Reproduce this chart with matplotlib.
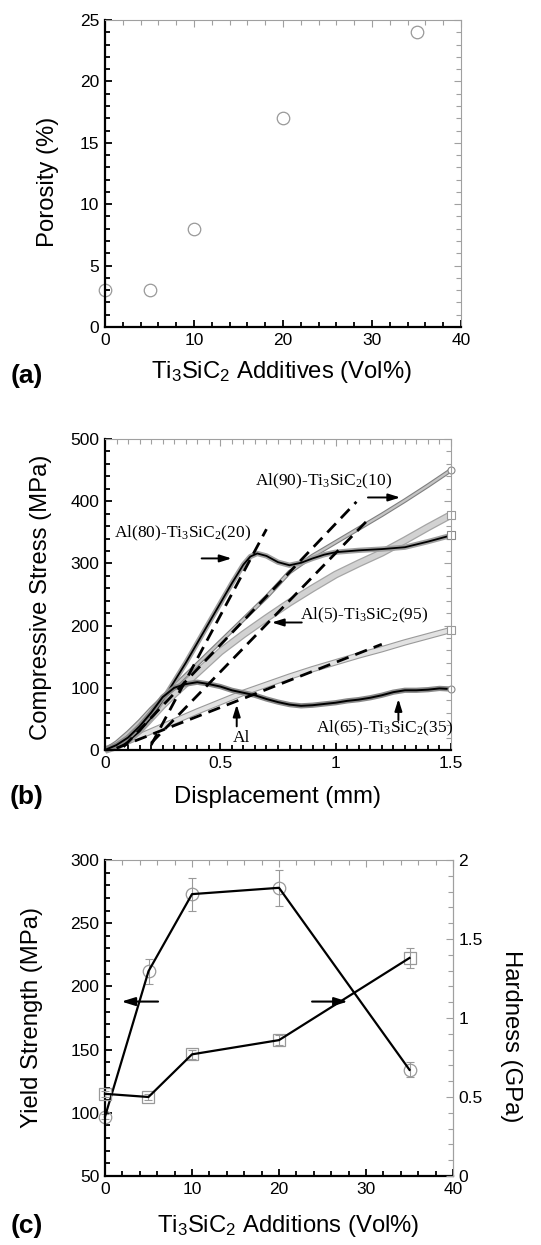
import matplotlib
matplotlib.use('Agg')
import matplotlib.pyplot as plt
from matplotlib.ticker import MultipleLocator

plt.rcParams['font.family'] = ['Liberation Sans', 'DejaVu Sans']

# ---------------- data ----------------
# (a) porosity
por_x = [0, 5, 10, 20, 35]
por_y = [3, 3, 8, 17, 24]

# (b) compressive stress-displacement curves
al80_x = [0, 0.05, 0.1, 0.15, 0.2, 0.25, 0.3, 0.35, 0.4, 0.45, 0.5, 0.55, 0.6, 0.63, 0.66, 0.7,
          0.75, 0.8, 0.85, 0.9, 0.95, 1.0, 1.1, 1.2, 1.3, 1.4, 1.5]
al80_y = [0, 5, 14, 30, 52, 80, 110, 140, 172, 204, 236, 268, 298, 311, 316, 312,
          302, 297, 301, 308, 314, 318, 321, 323, 326, 335, 345]
al90_x = [0, 0.05, 0.1, 0.15, 0.2, 0.3, 0.4, 0.5, 0.6, 0.7, 0.8, 0.9, 1.0, 1.1, 1.2, 1.3, 1.4, 1.5]
al90_y = [0, 12, 28, 46, 66, 102, 138, 174, 210, 246, 286, 312, 334, 356, 378, 401, 425, 450]
al5_x = [0, 0.05, 0.1, 0.15, 0.2, 0.25, 0.3, 0.4, 0.5, 0.6, 0.7, 0.8, 0.9, 1.0, 1.1, 1.2, 1.3, 1.4, 1.5]
al5_y = [0, 6, 16, 32, 52, 72, 90, 124, 158, 186, 212, 237, 260, 282, 300, 317, 337, 358, 378]
al_x = [0, 0.1, 0.2, 0.3, 0.4, 0.5, 0.6, 0.7, 0.8, 0.9, 1.0, 1.1, 1.2, 1.3, 1.4, 1.5]
al_y = [0, 14, 30, 46, 62, 77, 92, 105, 118, 130, 141, 152, 162, 173, 183, 193]
al65_x = [0, 0.05, 0.1, 0.15, 0.2, 0.25, 0.3, 0.35, 0.4, 0.45, 0.5, 0.55, 0.6, 0.65, 0.7, 0.75,
          0.8, 0.85, 0.9, 0.95, 1.0, 1.05, 1.1, 1.15, 1.2, 1.25, 1.3, 1.35, 1.4, 1.45, 1.5]
al65_y = [0, 8, 20, 38, 60, 85, 100, 106, 109, 106, 102, 96, 92, 88, 82, 77,
          73, 71, 72, 74, 76, 79, 81, 84, 88, 93, 96, 96, 97, 99, 98]
# dashed linear fits (end points)
fit80_x, fit80_y = [0.2, 0.70], [8, 355]
fit90_x, fit90_y = [0.08, 1.09], [5, 399]
fit5_x, fit5_y = [0.2, 1.145], [11, 372]
fital_x, fital_y = [0.05, 1.2], [3, 170]

# (c) yield strength and hardness
add_x = [0, 5, 10, 20, 35]
yield_y = [97, 212, 273, 278, 134]
yield_err = [2, 10, 13, 14, 6]
hard_y = [0.52, 0.50, 0.77, 0.86, 1.38]
hard_err = [0.02, 0.02, 0.03, 0.03, 0.065]

# ---------------- figure ----------------
W, H = 541, 1245
fig = plt.figure(figsize=(W / 100, H / 100), dpi=100)


def axes_px(l, t, r, b):
    return fig.add_axes([l / W, 1 - b / H, (r - l) / W, (b - t) / H])


def ftext(px, py, s, **kw):
    fig.text(px / W, 1 - py / H, s, ha='center', va='center', **kw)


GRAY = '#a0a0a0'
TICKFS = 12.5
LABFS = 17.2


def style(ax, xmaj, xmin, ymaj, ymin, right=True):
    for s in ['left', 'bottom']:
        ax.spines[s].set_linewidth(1.6)
        ax.spines[s].set_color('k')
    for s in ['top', 'right']:
        ax.spines[s].set_linewidth(0.8)
        ax.spines[s].set_color(GRAY)
    ax.xaxis.set_major_locator(MultipleLocator(xmaj))
    ax.xaxis.set_minor_locator(MultipleLocator(xmin))
    ax.yaxis.set_major_locator(MultipleLocator(ymaj))
    ax.yaxis.set_minor_locator(MultipleLocator(ymin))
    ax.tick_params(which='both', direction='in', top=True, right=right,
                   labelsize=TICKFS, width=1.3, pad=4)
    ax.tick_params(which='major', length=5)
    ax.tick_params(which='minor', length=3.5)
    ticks = ax.xaxis.get_major_ticks() + ax.xaxis.get_minor_ticks()
    if right:
        ticks += ax.yaxis.get_major_ticks() + ax.yaxis.get_minor_ticks()
    for t in ticks:
        t.tick2line.set_markeredgecolor(GRAY)
        t.tick2line.set_markeredgewidth(0.8)


# ---------- (a) ----------
axa = axes_px(105, 20, 461, 327)
axa.plot(por_x, por_y, 'o', ms=9, mfc='none', mec='#999999', mew=0.9, clip_on=False)
axa.set_xlim(0, 40)
axa.set_ylim(0, 25)
style(axa, 10, 2, 5, 1)
ftext(48, 182, 'Porosity (%)', rotation=90, fontsize=LABFS)
ftext(282, 372, r'$\mathregular{Ti_3SiC_2}$ Additives (Vol%)', fontsize=LABFS)
ftext(27, 376, '(a)', fontsize=19, fontweight='bold')

# ---------- (b) ----------
axb = axes_px(105, 439, 451, 750)
band = dict(solid_capstyle='butt', solid_joinstyle='round', clip_on=False)
# pure Al
axb.plot(al_x, al_y, color='#9a9a9a', lw=4.6, **band)
axb.plot(al_x, al_y, color='#e2e2e2', lw=3.0, **band)
axb.plot(al_x[-1:], al_y[-1:], 's', ms=6, mfc='white', mec='#999999', mew=0.8, clip_on=False)
# Al(5)
axb.plot(al5_x, al5_y, color='#a5a5a5', lw=5.6, **band)
axb.plot(al5_x, al5_y, color='#d2d2d2', lw=3.8, **band)
axb.plot(al5_x[-1:], al5_y[-1:], 's', ms=6, mfc='white', mec='#999999', mew=0.8, clip_on=False)
# Al(90)
axb.plot(al90_x, al90_y, color='#808080', lw=3.2, **band)
axb.plot(al90_x, al90_y, color='#c4c4c4', lw=1.6, **band)
axb.plot(al90_x[-1:], al90_y[-1:], 'o', ms=5, mfc='white', mec='#888888', mew=0.8, clip_on=False)
# Al(80)
axb.plot(al80_x, al80_y, color='#a0a0a0', lw=3.8, **band)
axb.plot(al80_x, al80_y, color='k', lw=1.3, **band)
axb.plot(al80_x[-1:], al80_y[-1:], 's', ms=5.5, mfc='white', mec='#888888', mew=0.8, clip_on=False)
# Al(65)
axb.plot(al65_x, al65_y, color='#8a8a8a', lw=3.8, **band)
axb.plot(al65_x, al65_y, color='k', lw=1.4, **band)
axb.plot(al65_x[-1:], al65_y[-1:], 'o', ms=5, mfc='white', mec='#888888', mew=0.8, clip_on=False)
# dashed fits
for fx, fy in [(fit80_x, fit80_y), (fit90_x, fit90_y), (fit5_x, fit5_y), (fital_x, fital_y)]:
    axb.plot(fx, fy, color='k', lw=2.0, dashes=(4.5, 2.6))
axb.set_xlim(0, 1.5)
axb.set_ylim(0, 500)
style(axb, 0.5, 0.05, 100, 20)
axb.set_xticks([0, 0.5, 1.0, 1.5])
axb.set_xticklabels(['0', '0.5', '1', '1.5'])

SER = ['Liberation Serif', 'DejaVu Serif']
AFS = 12.5
arr = dict(arrowstyle='-|>,head_length=0.7,head_width=0.22', color='k', lw=1.4, shrinkA=0, shrinkB=0)
axb.text(0.946, 432, r'Al(90)-$\mathregular{Ti_3SiC_2}$(10)', family=SER, fontsize=AFS, ha='center', va='center')
axb.annotate('', xy=(1.28, 406), xytext=(1.14, 406), arrowprops=arr)
axb.text(0.335, 348, r'Al(80)-$\mathregular{Ti_3SiC_2}$(20)', family=SER, fontsize=AFS, ha='center', va='center')
axb.annotate('', xy=(0.549, 308), xytext=(0.419, 308), arrowprops=arr)
axb.text(1.123, 217, r'Al(5)-$\mathregular{Ti_3SiC_2}$(95)', family=SER, fontsize=AFS, ha='center', va='center')
axb.annotate('', xy=(0.723, 205), xytext=(0.853, 205), arrowprops=arr)
axb.text(0.59, 19, 'Al', family=SER, fontsize=AFS, ha='center', va='center')
axb.annotate('', xy=(0.571, 73), xytext=(0.571, 38), arrowprops=arr)
axb.text(1.21, 35, r'Al(65)-$\mathregular{Ti_3SiC_2}$(35)', family=SER, fontsize=AFS, ha='center', va='center')
axb.annotate('', xy=(1.272, 82), xytext=(1.272, 48), arrowprops=arr)

ftext(41, 597, 'Compressive Stress (MPa)', rotation=90, fontsize=LABFS)
ftext(278, 797, 'Displacement (mm)', fontsize=LABFS)
ftext(27, 797, '(b)', fontsize=19, fontweight='bold')

# ---------- (c) ----------
axc = axes_px(105, 860, 453, 1176)
axh = axc.twinx()
axc.errorbar(add_x, yield_y, yerr=yield_err, fmt='none', ecolor='#999999', elinewidth=0.8,
             capsize=3, capthick=0.8, clip_on=False)
axc.plot(add_x, yield_y, 'o', ms=9, mfc='none', mec='#999999', mew=0.9, clip_on=False)
axc.plot(add_x, yield_y, '-', color='k', lw=1.6, clip_on=False)
axh.errorbar(add_x, hard_y, yerr=hard_err, fmt='none', ecolor='#999999', elinewidth=0.8,
             capsize=3, capthick=0.8, clip_on=False)
axh.plot(add_x, hard_y, 's', ms=8, mfc='none', mec='#999999', mew=0.9, clip_on=False)
axh.plot(add_x, hard_y, '-', color='k', lw=1.6, clip_on=False)
axc.set_xlim(0, 40)
axc.set_ylim(50, 300)
axh.set_ylim(0, 2)
style(axc, 10, 2, 50, 10, right=False)
for s in ['left', 'bottom', 'top']:
    axh.spines[s].set_visible(False)
axh.spines['right'].set_color(GRAY)
axh.spines['right'].set_linewidth(0.8)
axh.yaxis.set_major_locator(MultipleLocator(0.5))
axh.yaxis.set_minor_locator(MultipleLocator(0.1))
axh.tick_params(which='both', direction='in', color=GRAY, width=0.8, labelsize=TICKFS, pad=4)
axh.tick_params(which='major', length=5)
axh.tick_params(which='minor', length=3.5)
axh.set_yticks([0, 0.5, 1, 1.5, 2])
axh.set_yticklabels(['0', '0.5', '1', '1.5', '2'])

arr2 = dict(arrowstyle='-|>,head_length=0.8,head_width=0.25', color='k', lw=1.5, shrinkA=0, shrinkB=0)
axc.annotate('', xy=(1.9, 188), xytext=(6.1, 188), arrowprops=arr2)
axc.annotate('', xy=(27.9, 188), xytext=(23.8, 188), arrowprops=arr2)

ftext(32, 1018, 'Yield Strength (MPa)', rotation=90, fontsize=LABFS)
ftext(511, 1036, 'Hardness (GPa)', rotation=270, fontsize=LABFS)
ftext(288, 1226, r'$\mathregular{Ti_3SiC_2}$ Additions (Vol%)', fontsize=LABFS)
ftext(27, 1226, '(c)', fontsize=19, fontweight='bold')

fig.savefig('out.png', dpi=100)
